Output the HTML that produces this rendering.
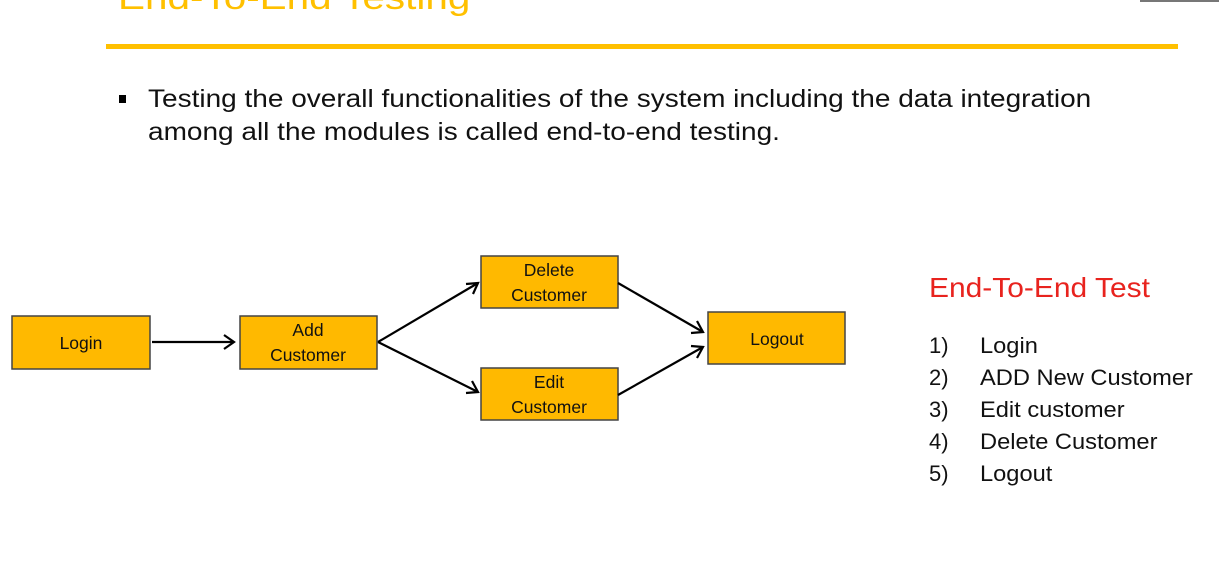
<!DOCTYPE html>
<html><head><meta charset="utf-8"><style>
html,body{margin:0;padding:0;background:#fff;width:1219px;height:579px;overflow:hidden;position:relative;font-family:"Liberation Sans",sans-serif}
.t{position:absolute;white-space:nowrap;transform-origin:0 0}
</style></head><body>
<div class="t" style="left:118px;top:-21px;font-size:34px;color:#FFC000;transform:scaleX(1.19)">End-To-End Testing</div>
<div style="position:absolute;left:1140px;top:0;width:79px;height:2px;background:#777"></div>
<div style="position:absolute;left:106px;top:44px;width:1072px;height:5px;background:#FFC000"></div>
<div style="position:absolute;left:119px;top:95px;width:7px;height:8px;background:#000"></div>
<div class="t" style="left:148px;top:83px;font-size:25px;line-height:33px;color:#111;transform:scaleX(1.12)">Testing the overall functionalities of the system including the data integration<br>among all the modules is called end-to-end testing.</div>
<svg width="1219" height="579" style="position:absolute;left:0;top:0" font-family="Liberation Sans, sans-serif">
<g fill="#FFB900" stroke="#444" stroke-width="1.5">
<rect x="12" y="316" width="138" height="53"/>
<rect x="240" y="316" width="137" height="53"/>
<rect x="481" y="256" width="137" height="52"/>
<rect x="481" y="368" width="137" height="52"/>
<rect x="708" y="312" width="137" height="52"/>
</g>
<g font-size="17.5" fill="#111" text-anchor="middle">
<text x="81" y="349">Login</text>
<text x="308" y="336">Add</text><text x="308" y="361">Customer</text>
<text x="549" y="276">Delete</text><text x="549" y="301">Customer</text>
<text x="549" y="388">Edit</text><text x="549" y="413">Customer</text>
<text x="777" y="345">Logout</text>
</g>
<g stroke="#000" stroke-width="2.2" fill="none">
<line x1="152" y1="342" x2="234" y2="342"/><polyline points="224,335 234,342 224,349"/>
<line x1="378" y1="342" x2="478" y2="283"/><polyline points="466,284 478,283 473,294"/>
<line x1="378" y1="342" x2="478" y2="392"/><polyline points="472,381 478,392 466,393"/>
<line x1="618" y1="283" x2="703" y2="332"/><polyline points="697,321 703,332 691,333"/>
<line x1="618" y1="395" x2="703" y2="347"/><polyline points="691,346 703,347 697,358"/>
</g>
</svg>
<div class="t" style="left:929px;top:272px;font-size:28px;color:#E8231E;transform:scaleX(1.07)">End-To-End Test</div>
<div class="t" style="left:929px;top:330px;font-size:22px;line-height:32px;color:#111">1)<br>2)<br>3)<br>4)<br>5)</div>
<div class="t" style="left:980px;top:330px;font-size:22px;line-height:32px;color:#111;transform:scaleX(1.075)">Login<br>ADD New Customer<br>Edit customer<br>Delete Customer<br>Logout</div>
</body></html>
